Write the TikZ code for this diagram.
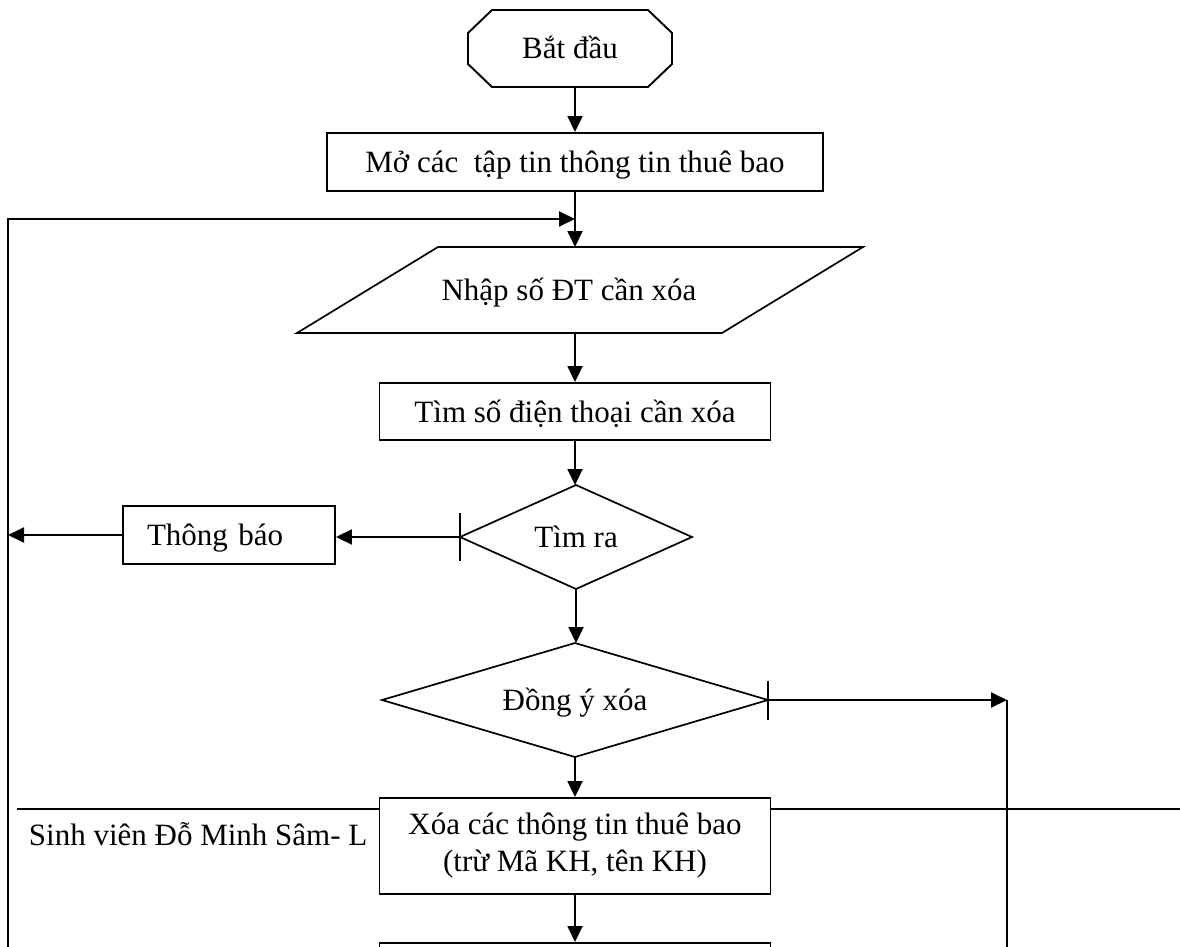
\documentclass[tikz,border=0pt]{standalone}
\usepackage{fontspec}
\setmainfont{Liberation Serif}
\usetikzlibrary{arrows.meta,calc}
\begin{document}
\begin{tikzpicture}[x=1pt,y=-1pt,line width=1.9pt,
  lbl/.style={font=\fontsize{31}{37}\selectfont},
  txt/.style={lbl,text height=21pt,text depth=0pt},
  box/.style={draw,rectangle,fill=white,inner sep=0pt,lbl},
  outline/.style={rectangle,inner sep=0pt,outer sep=0pt,txt},
  arr/.style={-{Triangle[length=16pt,width=15pt]}},
  edge/.style={line width=1.7pt}]
\useasboundingbox (0,0) rectangle (1180,947);
\clip (0,0) rectangle (1180,947);

% start terminal (octagon)
\node[outline,minimum width=204pt,minimum height=77pt] (start) at (570,48.5) {Bắt đầu};
\draw ([xshift=24pt]start.north west) -- ([xshift=-24pt]start.north east)
  -- ([yshift=-23pt]start.north east) -- ([yshift=23pt]start.south east)
  -- ([xshift=-24pt]start.south east) -- ([xshift=24pt]start.south west)
  -- ([yshift=23pt]start.south west) -- ([yshift=-23pt]start.north west) -- cycle;

% open files
\node[box,txt,minimum width=496pt,minimum height=58pt] (open) at (575,162) {Mở các~~tập tin thông tin thuê bao};

% input (parallelogram)
\node[outline,minimum width=566pt,minimum height=86pt] (input) at (580,290) {\hspace*{-22pt}Nhập số ĐT cần xóa};
\draw[edge] ([xshift=141pt]input.north west) -- (input.north east)
  -- ([xshift=-141pt]input.south east) -- (input.south west) -- cycle;

% search
\node[box,txt,minimum width=391pt,minimum height=57pt] (find) at (575,411.5) {Tìm số điện thoại cần xóa};

% decision: found?
\node[outline,minimum width=232pt,minimum height=104pt] (found) at (576,537) {Tìm ra};
\draw[edge] (found.north) -- (found.east) -- (found.south) -- (found.west) -- cycle;

% message
\node[box,txt,minimum height=58pt,text width=164pt,align=left,inner xsep=24pt] (note) at (229,535) {Thông báo};

% decision: confirm delete
\node[outline,minimum width=386pt,minimum height=114pt] (agree) at (575,700) {Đồng ý xóa};
\draw[edge] (agree.north) -- (agree.east) -- (agree.south) -- (agree.west) -- cycle;

% page footer
\coordinate (footL) at (17,809);
\coordinate (footR) at (1180,809);
\draw[edge] (footL) -- (footR);
\node[lbl,anchor=base west,inner sep=0pt] (footer) at (28,845) {Sinh viên Đỗ Minh Sâm- L};

% delete record
\node[box,align=center,minimum width=391pt,minimum height=96pt] (del) at (575,846) {Xóa các thông tin thuê bao\\(trừ Mã KH, tên KH)};

% next step (continues below)
\node[box,minimum width=391pt,minimum height=58pt,anchor=north] (next) at (575,942) {};

% connectors
\coordinate (wallB) at (8,960);
\coordinate (join) at (575,219);
\coordinate (exitT) at (1007,700);
\coordinate (exitB) at (1007,960);

\draw[arr] (start.south -| open.north) -- (open.north);
\draw[arr] (open.south) -- (open.south |- input.north);
\draw[arr] (wallB) |- (join);
\draw[arr] (input.south -| find.north) -- (find.north);
\draw[arr] (find.south) -- (find.south |- found.north);
\draw[arr] (found.west) -- (found.west -| note.east);
\draw[edge] ([yshift=24pt]found.west) -- ([yshift=-24pt]found.west);
\draw[arr] (note.west) -- (note.west -| wallB);
\draw[arr] (found.south) -- (found.south |- agree.north);
\draw[arr] (agree.east) -- (exitT);
\draw[edge] (exitT) -- (exitB);
\draw[edge] ([yshift=19.5pt]agree.east) -- ([yshift=-19.5pt]agree.east);
\draw[arr] (agree.south) -- (agree.south |- del.north);
\draw[arr] (del.south) -- (del.south |- next.north);
\end{tikzpicture}
\end{document}
